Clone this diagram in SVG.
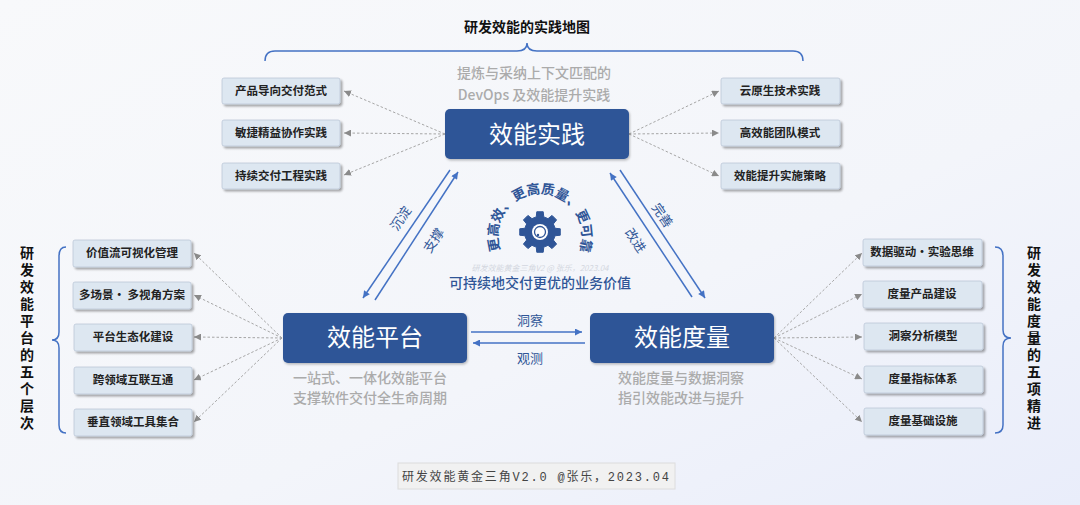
<svg xmlns="http://www.w3.org/2000/svg" xmlns:xlink="http://www.w3.org/1999/xlink" width="1080" height="505" viewBox="0 0 1080 505">
<defs>
<linearGradient id="bg" x1="0" y1="0" x2="1" y2="1">
<stop offset="0" stop-color="#f8f9fb"/>
<stop offset="0.6" stop-color="#f3f5fa"/>
<stop offset="1" stop-color="#e9edfa"/>
</linearGradient>
<filter id="sh" x="-10%" y="-20%" width="125%" height="150%">
<feDropShadow dx="2" dy="2" stdDeviation="1" flood-color="#000" flood-opacity="0.35"/>
</filter>
<filter id="sh2" x="-10%" y="-20%" width="125%" height="150%">
<feDropShadow dx="1" dy="1.5" stdDeviation="1.2" flood-color="#000" flood-opacity="0.25"/>
</filter>
<marker id="ag" viewBox="0 0 8 8" refX="8" refY="4" markerWidth="7" markerHeight="7" markerUnits="userSpaceOnUse" orient="auto">
<path d="M0,0 L8,4 L0,8 z" fill="#8a8a8a"/>
</marker>
<marker id="ab" viewBox="0 0 8 8" refX="8" refY="4" markerWidth="8" markerHeight="7" markerUnits="userSpaceOnUse" orient="auto">
<path d="M0,0 L8,4 L0,8 z" fill="#4472c4"/>
</marker>
<path id="arc" d="M500.6,250.3 A42,42 0 1 1 578.1,253.7" fill="none"/>
<style>
text{font-family:"Noto Sans CJK SC","Liberation Sans",sans-serif;}
.lb rect{fill:#dde7f1;stroke:#bcc8d8;stroke-width:0.8;filter:url(#sh);}
.lb text{font-size:11.5px;font-weight:bold;fill:#222;text-anchor:middle;}
.bb rect{fill:#2f5597;filter:url(#sh2);}
.bb text{font-size:24px;fill:#fff;text-anchor:middle;}
.dot{stroke:#a6a6a6;stroke-width:1;stroke-dasharray:2.5 2;fill:none;marker-end:url(#ag);}
.bl{stroke:#4472c4;stroke-width:1.5;fill:none;marker-end:url(#ab);}
.gray{font-size:14px;fill:#ababab;text-anchor:middle;font-weight:500;}
.blue{fill:#2f5597;font-size:13px;text-anchor:middle;dominant-baseline:central;}
.vt{font-size:14px;font-weight:bold;fill:#111;writing-mode:vertical-rl;letter-spacing:3px;}
.br{stroke:#4472c4;stroke-width:1.5;fill:none;}
</style>
</defs>
<rect width="1080" height="505" fill="url(#bg)"/>

<!-- titles and braces -->
<text x="527" y="32" font-size="14" font-weight="bold" fill="#111" text-anchor="middle">研发效能的实践地图</text>
<path class="br" d="M265,61 Q265,51 275,51 L517,51 Q527,51 527,43 Q527,51 537,51 L793,51 Q803,51 803,61"/>
<path class="br" d="M66,247 Q59,247 59,256 L59,332 Q59,340 52,340 Q59,340 59,348 L59,425 Q59,433 66,433"/>
<path class="br" d="M995,247 Q1003,247 1003,256 L1003,330 Q1003,338 1011,338 Q1003,338 1003,346 L1003,425 Q1003,433 995,433"/>
<text class="vt" x="27" y="246">研发效能平台的五个层次</text>
<text class="vt" x="1034" y="246">研发效能度量的五项精进</text>

<!-- connectors -->
<g id="connectors">
<path class="dot" d="M445,134 L344,91"/>
<path class="dot" d="M445,134 L344,133"/>
<path class="dot" d="M445,134 L344,175"/>
<path class="dot" d="M629,134 L719,91"/>
<path class="dot" d="M629,134 L719,133"/>
<path class="dot" d="M629,134 L719,176"/>
<path class="dot" d="M282,338 L194,253"/>
<path class="dot" d="M282,338 L194,295"/>
<path class="dot" d="M282,338 L194,337"/>
<path class="dot" d="M282,338 L194,380"/>
<path class="dot" d="M282,338 L194,422"/>
<path class="dot" d="M774,338 L862,253"/>
<path class="dot" d="M774,338 L862,294"/>
<path class="dot" d="M774,338 L862,337"/>
<path class="dot" d="M774,338 L862,379"/>
<path class="dot" d="M774,338 L862,422"/>
<path class="bl" d="M450,170 L363,298"/>
<path class="bl" d="M375,300 L458,172"/>
<path class="bl" d="M692,297 L610,173"/>
<path class="bl" d="M620,170 L705,298"/>
<path class="bl" d="M471,332 L582,332"/>
<path class="bl" d="M585,343 L473,343"/>
<text class="blue" transform="translate(400,218) rotate(-56)">沉淀</text>
<text class="blue" transform="translate(433,240) rotate(-56)">支撑</text>
<text class="blue" transform="translate(663,215) rotate(56)">完善</text>
<text class="blue" transform="translate(636,240) rotate(56)">改进</text>
<text class="blue" x="530" y="319">洞察</text>
<text class="blue" x="530" y="357">观测</text>
</g>

<!-- main nodes -->
<g id="practice" class="bb">
<rect x="445" y="109" width="184" height="50" rx="5"/>
<text x="537" y="143">效能实践</text>
</g>
<text class="gray" x="534" y="78">提炼与采纳上下文匹配的</text>
<text class="gray" x="534" y="100">DevOps 及效能提升实践</text>

<g id="platform" class="bb">
<rect x="283" y="313" width="184" height="50" rx="5"/>
<text x="375" y="346">效能平台</text>
</g>
<text class="gray" x="370" y="383">一站式、一体化效能平台</text>
<text class="gray" x="370" y="403">支撑软件交付全生命周期</text>

<g id="metrics" class="bb">
<rect x="590" y="313" width="184" height="50" rx="5"/>
<text x="682" y="346">效能度量</text>
</g>
<text class="gray" x="681" y="383">效能度量与数据洞察</text>
<text class="gray" x="681" y="403">指引效能改进与提升</text>

<!-- center gear -->
<g id="center">
<path fill="#2f5597" stroke="#2f5597" stroke-width="1" stroke-linejoin="round" d="M536.25,216.96 L536.79,211.75 L543.21,211.75 L543.75,216.96 A15.5,15.5 0 0 1 547.98,218.71 L552.05,215.42 L556.58,219.95 L553.29,224.02 A15.5,15.5 0 0 1 555.04,228.25 L560.25,228.79 L560.25,235.21 L555.04,235.75 A15.5,15.5 0 0 1 553.29,239.98 L556.58,244.05 L552.05,248.58 L547.98,245.29 A15.5,15.5 0 0 1 543.75,247.04 L543.21,252.25 L536.79,252.25 L536.25,247.04 A15.5,15.5 0 0 1 532.02,245.29 L527.95,248.58 L523.42,244.05 L526.71,239.98 A15.5,15.5 0 0 1 524.96,235.75 L519.75,235.21 L519.75,228.79 L524.96,228.25 A15.5,15.5 0 0 1 526.71,224.02 L523.42,219.95 L527.95,215.42 L532.02,218.71 A15.5,15.5 0 0 1 536.25,216.96 Z"/>
<circle cx="540" cy="232" r="8" fill="#fff"/>
<circle cx="540" cy="232" r="5.5" fill="#fff" stroke="#2f5597" stroke-width="1.3"/>
<circle cx="538" cy="235" r="1.2" fill="#2f5597"/>
<text font-size="13.5" font-weight="bold" fill="#2f5597"><textPath href="#arc" xlink:href="#arc">更高效、更高质量、更可靠</textPath></text>
<text x="540" y="271" font-size="8" font-style="italic" fill="#d3d7df" text-anchor="middle">研发效能黄金三角V2 @ 张乐，2023.04</text>
<text x="540" y="288" font-size="14" font-weight="500" fill="#2f5597" text-anchor="middle">可持续地交付更优的业务价值</text>
</g>

<!-- top-left practice boxes -->
<g id="tl1" class="lb"><rect x="222" y="78" width="118" height="26" rx="2"/><text x="281" y="95">产品导向交付范式</text></g>
<g id="tl2" class="lb"><rect x="222" y="120" width="118" height="26" rx="2"/><text x="281" y="137">敏捷精益协作实践</text></g>
<g id="tl3" class="lb"><rect x="222" y="163" width="118" height="26" rx="2"/><text x="281" y="180">持续交付工程实践</text></g>
<!-- top-right practice boxes -->
<g id="tr1" class="lb"><rect x="721" y="78" width="119" height="26" rx="2"/><text x="780" y="95">云原生技术实践</text></g>
<g id="tr2" class="lb"><rect x="721" y="120" width="119" height="26" rx="2"/><text x="780" y="137">高效能团队模式</text></g>
<g id="tr3" class="lb"><rect x="721" y="163" width="119" height="26" rx="2"/><text x="780" y="180">效能提升实施策略</text></g>
<!-- left platform boxes -->
<g id="l1" class="lb"><rect x="73" y="240" width="118" height="27" rx="2"/><text x="132" y="257">价值流可视化管理</text></g>
<g id="l2" class="lb"><rect x="73" y="282" width="118" height="27" rx="2"/><text x="132" y="299">多场景· 多视角方案</text></g>
<g id="l3" class="lb"><rect x="74" y="324" width="118" height="27" rx="2"/><text x="133" y="341">平台生态化建设</text></g>
<g id="l4" class="lb"><rect x="74" y="367" width="118" height="27" rx="2"/><text x="133" y="384">跨领域互联互通</text></g>
<g id="l5" class="lb"><rect x="74" y="409" width="118" height="27" rx="2"/><text x="133" y="426">垂直领域工具集合</text></g>
<!-- right metrics boxes -->
<g id="r1" class="lb"><rect x="863" y="239" width="119" height="27" rx="2"/><text x="922" y="256">数据驱动·实验思维</text></g>
<g id="r2" class="lb"><rect x="863" y="281" width="119" height="27" rx="2"/><text x="922" y="298">度量产品建设</text></g>
<g id="r3" class="lb"><rect x="864" y="323" width="119" height="27" rx="2"/><text x="923" y="340">洞察分析模型</text></g>
<g id="r4" class="lb"><rect x="864" y="366" width="119" height="27" rx="2"/><text x="923" y="383">度量指标体系</text></g>
<g id="r5" class="lb"><rect x="864" y="408" width="119" height="27" rx="2"/><text x="923" y="425">度量基础设施</text></g>

<!-- footer -->
<g id="footer">
<rect x="398" y="463" width="277" height="26" fill="#f1f1f1" stroke="#dcdcdc" stroke-width="1"/>
<text x="402" y="481" font-size="12" fill="#444" textLength="267" lengthAdjust="spacing" style="font-family:'Liberation Mono','Noto Sans CJK SC',monospace">研发效能黄金三角V2.0 @张乐，2023.04</text>
</g>
</svg>
